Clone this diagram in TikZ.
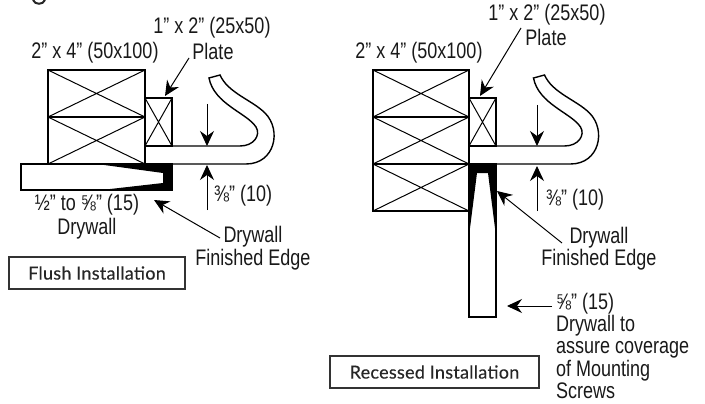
\documentclass[tikz,border=0pt]{standalone}
\usepackage{fontspec}
\setmainfont{Liberation Sans}[FakeStretch=0.8]
\newfontfamily\boxfont{Lato}[FakeBold=0.25,LetterSpace=1.5]
\usetikzlibrary{arrows.meta}
\tikzset{
  lab/.style={font=\fontsize{22.5}{25}\selectfont,inner sep=0pt,align=center,text=black!90},
  labl/.style={lab,align=left},
  boxn/.style={draw=black!80,line width=2.2pt,inner sep=0pt,font=\boxfont\fontsize{18}{20}\selectfont,text=black!85},
  wood/.style={draw=black,line width=1.5pt},
  thin/.style={draw=black,line width=1pt},
  arr/.style={draw=black,line width=1pt,-{Stealth[length=15pt,width=14pt,inset=5pt]}},
  wall/.style={draw=black,line width=1.4pt,fill=white},
}
\newcommand{\studcell}[4]{%
  \draw[thin] (#1,#2) -- (#3,#4) (#1,#4) -- (#3,#2);
  \draw[wood] (#1,#2) rectangle (#3,#4);
}
\newcommand{\hookshape}{%
  \draw[line width=1.4pt] (145,146) -- (240,146)
    .. controls (254,146) and (261,135) .. (256,127)
    .. controls (247,113) and (214,104) .. (209,78)
    -- (220,75)
    .. controls (228,93) and (252,100) .. (265,113)
    .. controls (282,130) and (275,164) .. (246,164)
    -- (172,164);
}
\begin{document}
\begin{tikzpicture}[x=1pt,y=-1pt]
\useasboundingbox (0,0) rectangle (705,404);
% letter fragment at the top edge
\draw[line width=2pt,black!85] (33,0) .. controls (35,5) and (43,5) .. (45,0);
% ---------- left: flush
\coordinate (lp) at (165,96);
\coordinate (lps) at (189,58);
\coordinate (ld1s) at (207,104);
\coordinate (ld1e) at (207,146);
\coordinate (ld2s) at (207,210);
\coordinate (ld2e) at (207,165);
\coordinate (lfs) at (220,238);
\coordinate (lfe) at (154,200);
\studcell{48}{70}{145}{117}
\studcell{48}{117}{145}{164}
\studcell{145}{98}{172}{146}
\hookshape
\draw[wall] (21,164) rectangle (172,190);
\fill[black] (97,164) -- (172,164) -- (172,190.5) -- (97,190.5) -- (163,183) -- (163,173) -- cycle;
\draw[arr] (lps) -- (lp);
\draw[arr] (ld1s) -- (ld1e);
\draw[arr] (ld2s) -- (ld2e);
\draw[arr] (lfs) -- (lfe);
\node[lab] (l24) at (95,53) {2" x 4" (50x100)};
\node[lab] (l12) at (212,28) {1" x 2" (25x50)};
\node[lab] (lpl) at (213,51) {Plate};
\node[labl,anchor=west] (l38) at (214,196) {⅜" (10)};
\node[lab] (ldw) at (87,205) {½" to ⅝" (15)};
\node[lab] (ldw2) at (87,229) {Drywall};
\node[lab] (lfe1) at (253,237) {Drywall};
\node[lab] (lfe2) at (253,260) {Finished Edge};
\node[boxn,minimum width=176pt,minimum height=32pt] (lbox) at (97,273) {Flush Installation};
% ---------- right: recessed
\coordinate (rp) at (480,96);
\coordinate (rps) at (521,28);
\coordinate (rd1s) at (537,105);
\coordinate (rd1e) at (537,146);
\coordinate (rd2s) at (537,211);
\coordinate (rd2e) at (537,166);
\coordinate (rfs) at (562,243);
\coordinate (rfe) at (497,191);
\coordinate (rss) at (552,306);
\coordinate (rse) at (507,306);
\studcell{373}{70}{469}{117}
\studcell{373}{117}{469}{164}
\studcell{373}{164}{469}{211}
\studcell{469}{98}{496}{146}
\begin{scope}[xshift=324.5pt]
\hookshape
\end{scope}
\draw[line width=1.4pt] (469,146) -- (469,164);
\draw[wall] (469,164) rectangle (496,317);
\fill[black] (468.5,164) -- (496.5,164) -- (496.5,240) -- (488,173) -- (477,173) -- (468.5,240) -- cycle;
\draw[arr] (rps) -- (rp);
\draw[arr] (rd1s) -- (rd1e);
\draw[arr] (rd2s) -- (rd2e);
\draw[arr] (rfs) -- (rfe);
\draw[arr] (rss) -- (rse);
\node[lab] (r24) at (419,53) {2" x 4" (50x100)};
\node[lab] (r12) at (547,15) {1" x 2" (25x50)};
\node[lab] (rpl) at (546,37) {Plate};
\node[labl,anchor=west] (r38) at (546,200) {⅜" (10)};
\node[lab] (rfe1) at (599,238) {Drywall};
\node[lab] (rfe2) at (599,260) {Finished Edge};
\node[labl,anchor=west] (rs1) at (556,304) {⅝" (15)};
\node[labl,anchor=west] (rs2) at (556,326) {Drywall to};
\node[labl,anchor=west] (rs3) at (556,350) {assure coverage};
\node[labl,anchor=west] (rs4) at (556,371) {of Mounting};
\node[labl,anchor=west] (rs5) at (556,391) {Screws};
\node[boxn,minimum width=209pt,minimum height=32pt] (rbox) at (434.5,372) {Recessed Installation};
\end{tikzpicture}
\end{document}
